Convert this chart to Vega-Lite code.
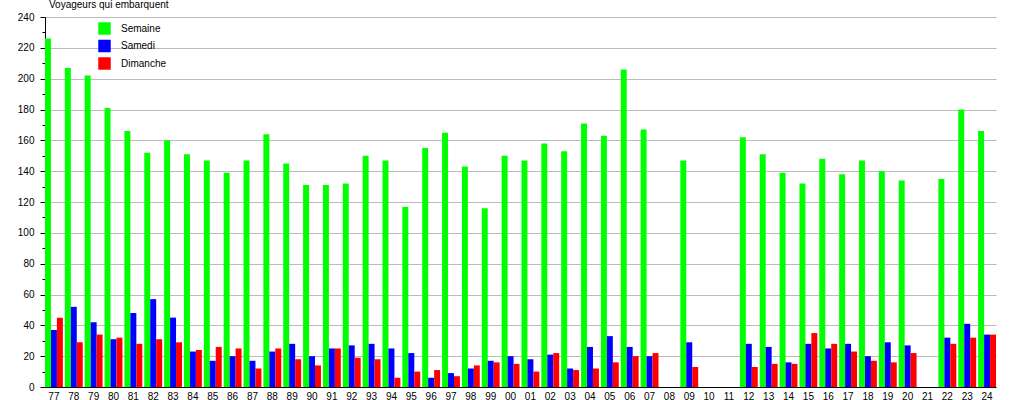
{
  "$schema": "https://vega.github.io/schema/vega-lite/v6.json",
  "width": 951,
  "height": 370,
  "autosize": {"type": "none"},
  "padding": {"left": 45, "top": 17, "right": 19, "bottom": 13},
  "background": "white",
  "config": {
    "view": {"stroke": null},
    "font": "Liberation Sans"
  },
  "title": {
    "text": "Voyageurs qui embarquent",
    "anchor": "start",
    "frame": "group",
    "fontSize": 10,
    "fontWeight": "normal",
    "font": "Liberation Sans",
    "color": "#000000",
    "baseline": "alphabetic",
    "offset": -6,
    "dx": 4
  },
  "data": {
    "values": [
      {"an": "77", "Semaine": 226, "Samedi": 37, "Dimanche": 45},
      {"an": "78", "Semaine": 207, "Samedi": 52, "Dimanche": 29},
      {"an": "79", "Semaine": 202, "Samedi": 42, "Dimanche": 34},
      {"an": "80", "Semaine": 181, "Samedi": 31, "Dimanche": 32},
      {"an": "81", "Semaine": 166, "Samedi": 48, "Dimanche": 28},
      {"an": "82", "Semaine": 152, "Samedi": 57, "Dimanche": 31},
      {"an": "83", "Semaine": 160, "Samedi": 45, "Dimanche": 29},
      {"an": "84", "Semaine": 151, "Samedi": 23, "Dimanche": 24},
      {"an": "85", "Semaine": 147, "Samedi": 17, "Dimanche": 26},
      {"an": "86", "Semaine": 139, "Samedi": 20, "Dimanche": 25},
      {"an": "87", "Semaine": 147, "Samedi": 17, "Dimanche": 12},
      {"an": "88", "Semaine": 164, "Samedi": 23, "Dimanche": 25},
      {"an": "89", "Semaine": 145, "Samedi": 28, "Dimanche": 18},
      {"an": "90", "Semaine": 131, "Samedi": 20, "Dimanche": 14},
      {"an": "91", "Semaine": 131, "Samedi": 25, "Dimanche": 25},
      {"an": "92", "Semaine": 132, "Samedi": 27, "Dimanche": 19},
      {"an": "93", "Semaine": 150, "Samedi": 28, "Dimanche": 18},
      {"an": "94", "Semaine": 147, "Samedi": 25, "Dimanche": 6},
      {"an": "95", "Semaine": 117, "Samedi": 22, "Dimanche": 10},
      {"an": "96", "Semaine": 155, "Samedi": 6, "Dimanche": 11},
      {"an": "97", "Semaine": 165, "Samedi": 9, "Dimanche": 7},
      {"an": "98", "Semaine": 143, "Samedi": 12, "Dimanche": 14},
      {"an": "99", "Semaine": 116, "Samedi": 17, "Dimanche": 16},
      {"an": "00", "Semaine": 150, "Samedi": 20, "Dimanche": 15},
      {"an": "01", "Semaine": 147, "Samedi": 18, "Dimanche": 10},
      {"an": "02", "Semaine": 158, "Samedi": 21, "Dimanche": 22},
      {"an": "03", "Semaine": 153, "Samedi": 12, "Dimanche": 11},
      {"an": "04", "Semaine": 171, "Samedi": 26, "Dimanche": 12},
      {"an": "05", "Semaine": 163, "Samedi": 33, "Dimanche": 16},
      {"an": "06", "Semaine": 206, "Samedi": 26, "Dimanche": 20},
      {"an": "07", "Semaine": 167, "Samedi": 20, "Dimanche": 22},
      {"an": "09", "Semaine": 147, "Samedi": 29, "Dimanche": 13},
      {"an": "12", "Semaine": 162, "Samedi": 28, "Dimanche": 13},
      {"an": "13", "Semaine": 151, "Samedi": 26, "Dimanche": 15},
      {"an": "14", "Semaine": 139, "Samedi": 16, "Dimanche": 15},
      {"an": "15", "Semaine": 132, "Samedi": 28, "Dimanche": 35},
      {"an": "16", "Semaine": 148, "Samedi": 25, "Dimanche": 28},
      {"an": "17", "Semaine": 138, "Samedi": 28, "Dimanche": 23},
      {"an": "18", "Semaine": 147, "Samedi": 20, "Dimanche": 17},
      {"an": "19", "Semaine": 140, "Samedi": 29, "Dimanche": 16},
      {"an": "20", "Semaine": 134, "Samedi": 27, "Dimanche": 22},
      {"an": "22", "Semaine": 135, "Samedi": 32, "Dimanche": 28},
      {"an": "23", "Semaine": 180, "Samedi": 41, "Dimanche": 32},
      {"an": "24", "Semaine": 166, "Samedi": 34, "Dimanche": 34}
    ]
  },
  "transform": [
    {"fold": ["Semaine", "Samedi", "Dimanche"], "as": ["jour", "voyageurs"]}
  ],
  "mark": {"type": "bar"},
  "encoding": {
    "x": {
      "field": "an",
      "type": "nominal",
      "scale": {
        "domain": ["77","78","79","80","81","82","83","84","85","86","87","88","89","90","91","92","93","94","95","96","97","98","99","00","01","02","03","04","05","06","07","08","09","10","11","12","13","14","15","16","17","18","19","20","21","22","23","24"],
        "paddingInner": 0.1,
        "paddingOuter": 0
      },
      "axis": {
        "title": null,
        "labelAngle": 0,
        "labelFontSize": 10,
        "labelColor": "#000000",
        "labelFont": "Liberation Sans",
        "labelPadding": 4,
        "labelDx": 4,
        "ticks": false,
        "domainColor": "#000000",
        "domainWidth": 1,
        "grid": false
      }
    },
    "xOffset": {
      "field": "jour",
      "type": "nominal",
      "scale": {"domain": ["Semaine", "Samedi", "Dimanche"], "paddingInner": 0, "paddingOuter": 0}
    },
    "y": {
      "field": "voyageurs",
      "type": "quantitative",
      "scale": {"domain": [0, 240], "nice": false},
      "axis": {
        "title": null,
        "values": [0,10,20,30,40,50,60,70,80,90,100,110,120,130,140,150,160,170,180,190,200,210,220,230,240],
        "labelExpr": "datum.value % 20 === 0 ? datum.label : ''",
        "labelFontSize": 10,
        "labelColor": "#000000",
        "labelFont": "Liberation Sans",
        "labelPadding": 6,
        "tickColor": "#000000",
        "tickSize": {"condition": {"test": "datum.value % 20 === 0", "value": 5}, "value": 3},
        "domainColor": "#000000",
        "grid": true,
        "gridColor": "#bbbbbb",
        "gridOpacity": {"condition": {"test": "datum.value % 20 === 0 && datum.value > 0", "value": 1}, "value": 0},
        "labelOverlap": false
      }
    },
    "color": {
      "field": "jour",
      "type": "nominal",
      "scale": {"domain": ["Semaine", "Samedi", "Dimanche"], "range": ["#00ff00", "#0000ff", "#ff0000"]},
      "legend": {
        "title": null,
        "orient": "none",
        "legendX": 53,
        "legendY": 5,
        "symbolType": "square",
        "symbolSize": 156,
        "symbolStrokeWidth": 0,
        "symbolOpacity": 1,
        "labelFontSize": 10,
        "labelFont": "Liberation Sans",
        "labelColor": "#000000",
        "labelOffset": 10,
        "rowPadding": 4.5
      }
    }
  }
}
